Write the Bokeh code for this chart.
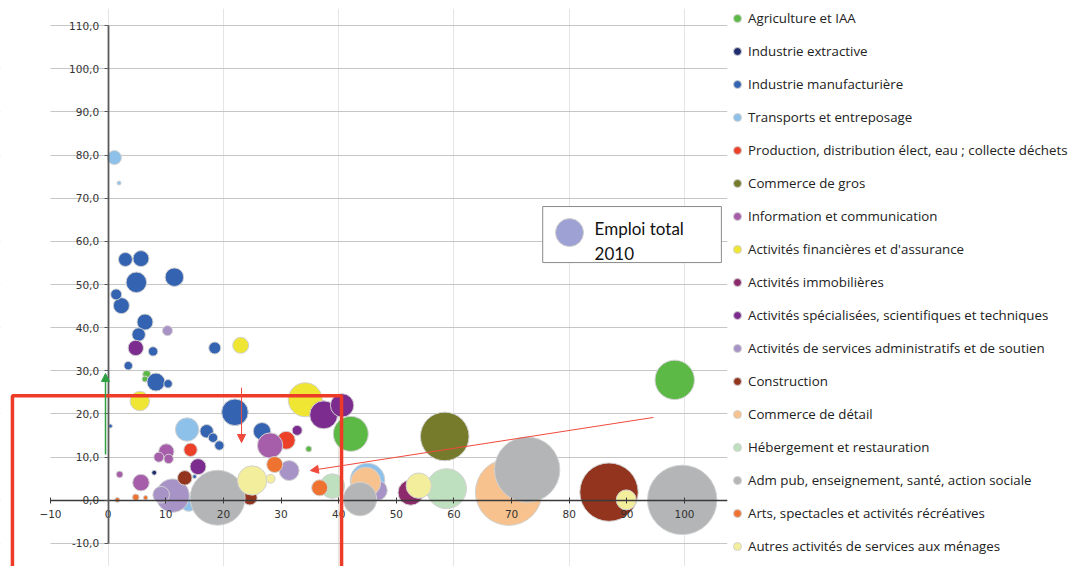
import math
from bokeh.plotting import figure
from bokeh.models import (LinearAxis, FixedTicker, Grid, Legend, LegendItem, BoxAnnotation,
                          Arrow, NormalHead, Label, ColumnDataSource, Range1d)
from bokeh.embed import file_html
from bokeh.resources import INLINE

# ---------------- data ----------------
series_names = [
    "Agriculture et IAA",
    "Industrie extractive",
    "Industrie manufacturière",
    "Transports et entreposage",
    "Production, distribution élect, eau ; collecte déchets",
    "Commerce de gros",
    "Information et communication",
    "Activités financières et d'assurance",
    "Activités immobilières",
    "Activités spécialisées, scientifiques et techniques",
    "Activités de services administratifs et de soutien",
    "Construction",
    "Commerce de détail",
    "Hébergement et restauration",
    "Adm pub, enseignement, santé, action sociale",
    "Arts, spectacles et activités récréatives",
    "Autres activités de services aux ménages",
]
series_colors = [
    "#5DB946", "#1F2D6E", "#3463B1", "#8DC1EA", "#EC4128", "#767B2C",
    "#A65EAA", "#EEE633", "#8C2A6B", "#7B2C8E", "#A893C7", "#93351E",
    "#F8C28E", "#BEE0BE", "#B3B5B6", "#EE7331", "#F3EE9C",
]

agri_x = [98.3, 42.1, 6.7, 6.4, 34.8]
agri_y = [27.9, 15.4, 29.2, 28.1, 11.9]
agri_e = [388, 306, 16, 9, 9]

extr_x = [8.0]
extr_y = [6.4]
extr_e = [6]

manuf_x = [3.0, 5.7, 4.9, 11.5, 1.4, 2.3, 6.4, 5.3, 7.8, 18.5, 3.5, 8.3, 10.4, 0.4, 22.0, 17.1, 18.2, 19.3, 26.7, 15.0]
manuf_y = [55.8, 56.0, 50.5, 51.7, 47.7, 45.1, 41.3, 38.4, 34.5, 35.3, 31.2, 27.4, 27.0, 17.2, 20.4, 16.0, 14.5, 12.7, 16.0, 5.5]
manuf_e = [49, 64, 106, 86, 30, 64, 64, 45, 22, 36, 18, 81, 18, 4, 177, 45, 22, 22, 76, 4]

transp_x = [1.1, 1.9, 13.7, 14.0, 45.0]
transp_y = [79.4, 73.5, 16.4, -0.7, 4.6]
transp_e = [49, 4, 137, 64, 300]

prod_x = [14.3, 30.9]
prod_y = [11.7, 13.9]
prod_e = [45, 81]

gros_x = [58.4]
gros_y = [14.8]
gros_e = [590]

info_x = [10.1, 8.8, 10.5, 2.0, 5.7, 28.1]
info_y = [11.3, 10.0, 9.6, 6.0, 4.1, 12.7]
info_e = [59, 25, 22, 11, 69, 161]

fin_x = [23.0, 5.5, 34.2]
fin_y = [35.9, 23.0, 23.3]
fin_e = [64, 94, 289]

immo_x = [52.5]
immo_y = [1.8]
immo_e = [161]

spec_x = [4.8, 15.6, 32.8, 37.4, 40.6]
spec_y = [35.3, 7.8, 16.2, 19.8, 22.0]
spec_e = [59, 64, 25, 196, 137]

admin_x = [10.3, 11.2, 9.2, 31.4, 46.7]
admin_y = [39.3, 1.1, 1.3, 6.9, 2.3]
admin_e = [25, 279, 69, 100, 100]

constr_x = [13.3, 24.6, 86.9]
constr_y = [5.2, 0.6, 1.9]
constr_e = [53, 53, 853]

detail_x = [44.7, 69.5]
detail_y = [4.2, 1.9]
detail_e = [225, 1109]

heberg_x = [38.9, 58.7]
heberg_y = [3.3, 2.7]
heberg_e = [151, 400]

admpub_x = [19.0, 43.7, 72.7, 99.6]
admpub_y = [0.6, 0.3, 7.1, 0.1]
admpub_e = [756, 279, 1069, 1204]

arts_x = [1.6, 4.8, 6.5, 28.9, 36.7]
arts_y = [0.1, 0.7, 0.6, 8.3, 2.9]
arts_e = [6, 11, 5, 64, 64]

autres_x = [25.0, 28.2, 53.9, 89.9]
autres_y = [4.6, 5.0, 3.4, 0.1]
autres_e = [216, 20, 161, 100]

series_x = [agri_x, extr_x, manuf_x, transp_x, prod_x, gros_x, info_x, fin_x, immo_x,
            spec_x, admin_x, constr_x, detail_x, heberg_x, admpub_x, arts_x, autres_x]
series_y = [agri_y, extr_y, manuf_y, transp_y, prod_y, gros_y, info_y, fin_y, immo_y,
            spec_y, admin_y, constr_y, detail_y, heberg_y, admpub_y, arts_y, autres_y]
series_e = [agri_e, extr_e, manuf_e, transp_e, prod_e, gros_e, info_e, fin_e, immo_e,
            spec_e, admin_e, constr_e, detail_e, heberg_e, admpub_e, arts_e, autres_e]

x_ticks = [-10, 0, 10, 20, 30, 40, 50, 60, 70, 80, 90, 100]
y_ticks = [-10, 0, 10, 20, 30, 40, 50, 60, 70, 80, 90, 100, 110]
y_tick_labels = ["-10,0", "0,0", "10,0", "20,0", "30,0", "40,0", "50,0", "60,0",
                 "70,0", "80,0", "90,0", "100,0", "110,0"]

size_legend_text = "Emploi total\n2010"

# ---------------- figure ----------------
X0, X1 = -18.67, 107.46
Y0, Y1 = -15.33, 113.94
AXIS_MIN_X = -10

p = figure(frame_width=727, frame_height=558,
           x_range=Range1d(X0, X1), y_range=Range1d(Y0, Y1),
           x_axis_location=None, y_axis_location=None,
           toolbar_location=None, output_backend="svg",
           min_border_left=0, min_border_right=0, min_border_top=8, min_border_bottom=0,
           outline_line_color=None, background_fill_color="white", border_fill_color="white")

grid = Grid(dimension=1, ticker=FixedTicker(ticks=y_ticks),
            grid_line_color="#c6c6c6", grid_line_width=1.2)
p.add_layout(grid)
# plot area of the original starts at x = -10: mask the grid to the left of it
p.add_layout(BoxAnnotation(left=X0, right=AXIS_MIN_X, top=Y1, bottom=Y0, level="underlay",
                           fill_color="white", fill_alpha=1, line_alpha=0))

yaxis = LinearAxis(fixed_location=0, ticker=FixedTicker(ticks=y_ticks), bounds=(-10, 110),
                   major_label_overrides={float(t): l for t, l in zip(y_ticks, y_tick_labels)},
                   axis_line_color="#5a5a5a", axis_line_width=1.8,
                   major_tick_line_color="#5a5a5a", major_tick_in=0, major_tick_out=4,
                   minor_tick_in=0, minor_tick_out=0, major_label_standoff=5,
                   major_label_text_font="DejaVu Sans", major_label_text_font_size="10.5px",
                   major_label_text_color="#333333")
p.add_layout(yaxis, "left")

xaxis = LinearAxis(fixed_location=0, ticker=FixedTicker(ticks=x_ticks), bounds=(AXIS_MIN_X, X1),
                   axis_line_color="#3a3a3a", axis_line_width=1.5,
                   major_tick_line_color="#3a3a3a", major_tick_in=3, major_tick_out=3,
                   minor_tick_in=0, minor_tick_out=0, major_label_standoff=7,
                   major_label_text_font="DejaVu Sans", major_label_text_font_size="10.5px",
                   major_label_text_color="#333333")
p.add_layout(xaxis, "below")

items = []
for name, color, xs, ys, es in zip(series_names, series_colors, series_x, series_y, series_e):
    order = sorted(range(len(xs)), key=lambda i: -es[i])
    src = ColumnDataSource(dict(x=[xs[i] for i in order], y=[ys[i] for i in order],
                                size=[2 * math.sqrt(es[i]) for i in order]))
    r = p.scatter("x", "y", size="size", source=src, fill_color=color,
                  line_color="#d2d2d2", line_width=1)
    items.append(LegendItem(label=name, renderers=[r]))

legend = Legend(items=items, location="top_left", margin=0, padding=0, spacing=13,
                label_height=20, glyph_height=20, glyph_width=20, label_standoff=1,
                label_text_font="Open Sans", label_text_font_size="13.3px",
                label_text_color="#222222", border_line_color=None, background_fill_alpha=0)
p.add_layout(legend, "right")

# bubble-size key box
p.add_layout(BoxAnnotation(left=75.4, right=106.4, top=68.06, bottom=55.08,
                           fill_color="white", fill_alpha=1, line_color="#8a8a8a",
                           line_alpha=1, line_width=1))
key_src = ColumnDataSource(dict(x=[80.05], y=[62.03]))
p.scatter("x", "y", source=key_src, size=28, fill_color="#9EA1D4", line_color="#d0d0d0",
          line_width=1, level="overlay")
p.add_layout(Label(x=84.4, y=65.3, text=size_legend_text, text_font="Lato",
                   text_font_size="17px", text_color="#111111", text_baseline="top",
                   text_line_height=1.15))

# red highlight box
p.add_layout(BoxAnnotation(left=-16.6, right=40.5, top=24.2, bottom=-30,
                           fill_alpha=0, line_color="#EE3B27", line_alpha=1, line_width=3.5))

# arrows
green = "#2EA043"
red = "#EF4A3C"
p.add_layout(Arrow(x_start=-0.45, y_start=10.6, x_end=-0.45, y_end=29.4,
                   line_color=green, line_width=1.5,
                   end=NormalHead(size=8, fill_color=green, line_color=green)))
p.add_layout(Arrow(x_start=23.15, y_start=26.1, x_end=23.15, y_end=13.4,
                   line_color=red, line_width=1,
                   end=NormalHead(size=8, fill_color=red, line_color=red)))
p.add_layout(Arrow(x_start=94.6, y_start=19.2, x_end=35.1, y_end=6.9,
                   line_color=red, line_width=1,
                   end=NormalHead(size=8, fill_color=red, line_color=red)))

open("out.html", "w").write(file_html(p, INLINE))
